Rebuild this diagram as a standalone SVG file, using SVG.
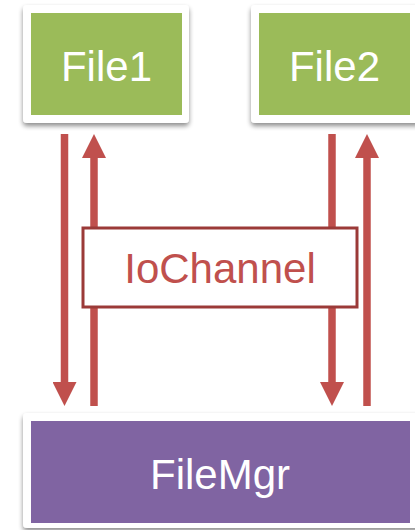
<svg xmlns="http://www.w3.org/2000/svg" width="415" height="530" viewBox="0 0 415 530">
  <defs>
    <filter id="shadow" x="-10%" y="-10%" width="120%" height="130%">
      <feGaussianBlur in="SourceAlpha" stdDeviation="2.5"/>
      <feOffset dx="0" dy="3" result="b"/>
      <feComponentTransfer><feFuncA type="linear" slope="0.45"/></feComponentTransfer>
      <feMerge><feMergeNode/><feMergeNode in="SourceGraphic"/></feMerge>
    </filter>
    <marker id="head" viewBox="0 0 24 24" refX="0" refY="12" markerWidth="24" markerHeight="24" markerUnits="userSpaceOnUse" orient="auto">
      <path d="M0,0 L24,12 L0,24 Z" fill="#c0504d"/>
    </marker>
    <style>
      .frame { fill: #ffffff; filter: url(#shadow); }
      .label { font-family: "Liberation Sans", Arial, sans-serif; font-size: 42px; text-anchor: middle; }
      .white { fill: #ffffff; }
      .wire { stroke: #c0504d; stroke-width: 7.5; fill: none; marker-end: url(#head); }
    </style>
  </defs>

  <rect width="415" height="530" fill="#ffffff"/>

  <!-- connectors -->
  <g id="connectors">
    <line class="wire" x1="64.5" y1="134" x2="64.5" y2="382"/>
    <line class="wire" x1="94" y1="406" x2="94" y2="158"/>
    <line class="wire" x1="332" y1="134" x2="332" y2="382"/>
    <line class="wire" x1="367" y1="406" x2="367" y2="158"/>
  </g>

  <g id="iochannel">
    <rect x="83" y="228" width="274" height="79" fill="#ffffff" stroke="#9b3a38" stroke-width="3"/>
    <text class="label" x="220" y="283" fill="#c0504d">IoChannel</text>
  </g>

  <g id="file1">
    <rect class="frame" x="23" y="5" width="166" height="118" rx="4"/>
    <rect x="31" y="13" width="151" height="102" fill="#9bbb59"/>
    <text class="label white" x="106.5" y="81">File1</text>
  </g>

  <g id="file2">
    <rect class="frame" x="251" y="5" width="170" height="118" rx="4"/>
    <rect x="259" y="13" width="151" height="102" fill="#9bbb59"/>
    <text class="label white" x="334.5" y="81">File2</text>
  </g>

  <g id="filemgr">
    <rect class="frame" x="23" y="413" width="400" height="115" rx="4"/>
    <rect x="31" y="421" width="379" height="102" fill="#8064a2"/>
    <text class="label white" x="220" y="489">FileMgr</text>
  </g>
</svg>
